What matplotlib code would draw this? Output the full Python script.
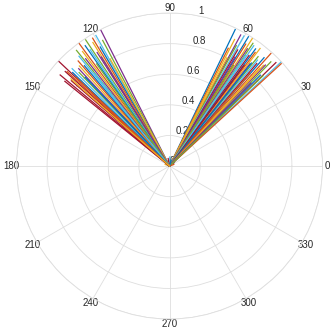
import numpy as np
import matplotlib
matplotlib.use('Agg')
import matplotlib.pyplot as plt

plt.rcParams['font.family'] = ['Liberation Sans', 'DejaVu Sans']

# end points of the lines (angle in degrees, radius)
theta_right = [64.3, 63.5, 62.8, 61.5, 61.0, 60.2, 59.6, 58.6, 58.0, 57.0,
               56.4, 55.8, 55.0, 54.3, 53.7, 53.0, 52.4, 51.8, 51.0, 50.3,
               49.6, 48.9, 48.0, 47.3, 46.5, 45.8, 43.0, 44.2, 45.0, 42.5,
               62.0, 59.0, 57.5, 55.5, 53.5, 51.5, 49.0, 47.0, 45.5, 44.0]
r_right = [0.99, 0.86, 0.93, 0.975, 0.90, 0.98, 0.88, 0.99, 0.94, 0.995,
           0.92, 0.97, 0.96, 0.89, 0.95, 0.93, 0.97, 0.85, 0.92, 0.90,
           0.88, 0.94, 0.99, 0.87, 0.91, 0.95, 1.0, 0.97, 0.84, 0.99,
           0.80, 0.83, 0.78, 0.88, 0.82, 0.86, 0.80, 0.90, 0.76, 0.85]

# short segments around the origin
theta_stub = [88, 100, 75, 20, 160]
r_stub = [0.06, 0.05, 0.04, 0.03, 0.03]

theta_left = [116.8, 118.0, 119.4, 136.6, 120.2, 121.0, 121.8, 122.5, 123.6, 124.3,
              137.8, 125.0, 126.4, 127.2, 128.0, 128.8, 129.5, 139.0, 130.3, 131.0,
              132.0, 133.0, 134.0, 135.0, 140.2, 136.0, 137.3, 119.0, 122.0, 125.5,
              129.0, 141.0, 133.5, 136.5, 138.5]
r_left = [0.999, 0.93, 0.98, 1.0, 0.90, 0.975, 0.95, 0.88, 0.99, 0.92,
          0.92, 0.96, 0.996, 0.94, 0.89, 0.97, 0.93, 0.85, 0.86, 0.91,
          0.88, 0.87, 0.85, 0.90, 0.93, 0.88, 0.91, 0.80, 0.84, 0.82,
          0.78, 0.88, 0.80, 0.84, 0.86]

colors = ['#0072BD', '#D95319', '#EDB120', '#7E2F8E', '#77AC30', '#4DBEEE', '#A2142F']

fig = plt.figure(figsize=(3.32, 3.32), dpi=100)
ax = fig.add_axes([0.0497, 0.039, 0.9217, 0.9217], projection='polar')
ax.set_prop_cycle(color=colors)

for th, r in zip(theta_right + theta_stub + theta_left, r_right + r_stub + r_left):
    ax.plot([0, np.radians(th)], [0, r], lw=0.9)

ax.set_ylim(0, 1)
ax.set_yticks([0, 0.2, 0.4, 0.6, 0.8, 1.0])
ax.set_yticklabels(['0', '0.2', '0.4', '0.6', '0.8', '1'])
ax.set_rlabel_position(79)
ax.set_xticks(np.radians(np.arange(0, 360, 30)))
ax.set_xticklabels([str(a) for a in range(0, 360, 30)])
ax.tick_params(labelsize=7, colors='#262626')
ax.tick_params(axis='x', pad=-7)
ax.grid(color='#dedede', lw=0.6)
ax.spines['polar'].set_color('#dedede')
ax.spines['polar'].set_linewidth(0.6)

fig.savefig('out.png', dpi=100)
